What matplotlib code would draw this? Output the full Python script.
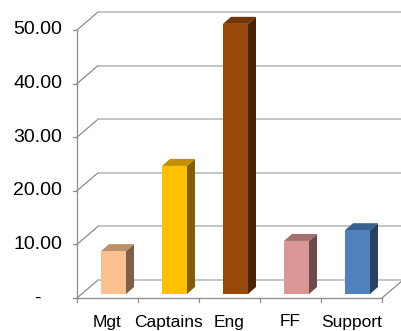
import numpy as np
import matplotlib
matplotlib.use("Agg")
import matplotlib.pyplot as plt
from matplotlib.patches import Polygon
from matplotlib.colors import to_rgb

# data
cats = ['Mgt', 'Captains', 'Eng', 'FF', 'Support']
vals = [8.0, 23.9, 50.4, 9.9, 11.9]
yticks = [0, 10, 20, 30, 40, 50]
ylabels = ['-', '10.00', '20.00', '30.00', '40.00', '50.00']
colors = ['#FAC090', '#FFC000', '#984807', '#D99694', '#4F81BD']

plt.rcParams['font.family'] = ['Liberation Sans', 'DejaVu Sans']

# pixel scale of the fake 3d box
px_x = 61.0     # px per category
px_y = 5.36     # px per value unit
W, H = 401, 331
x0px, y0px = 77, 298   # front-left floor corner

def dx(p):
    return p / px_x

def dy(p):
    return p / px_y

wall = (dx(21), dy(18))
bar_off = (dx(6), dy(4))
bar_d = (dx(8), dy(7))
bar_w = dx(25)
n = len(cats)

fig = plt.figure(figsize=(W / 100, H / 100), dpi=100)
ax = fig.add_axes([0, 0, 1, 1])
ax.set_xlim(-x0px / px_x, (W - x0px) / px_x)
ax.set_ylim(-(H - y0px) / px_y, y0px / px_y)
ax.axis('off')

xr = ax.get_xlim()[1]

# gridlines (front diagonal + back wall)
for v in yticks:
    ax.plot([0, wall[0]], [v, v + wall[1]], color='#8C8C8C', lw=0.9, zorder=1)
    ax.plot([wall[0], xr], [v + wall[1], v + wall[1]], color='#B4B4B4', lw=1.1, zorder=1)
    ax.plot([-dx(4), 0], [v, v], color='#8C8C8C', lw=0.9, zorder=1)

# floor and axes
ax.plot([0, n], [0, 0], color='#8C8C8C', lw=0.9, zorder=1)
ax.plot([n, n + wall[0]], [0, wall[1]], color='#8C8C8C', lw=0.9, zorder=1)
ax.plot([0, 0], [0, yticks[-1]], color='#8C8C8C', lw=0.9, zorder=1)
for i in range(n + 1):
    ax.plot([i, i], [0, -dy(4)], color='#8C8C8C', lw=0.9, zorder=1)

# bars
for i in range(n):
    c = np.array(to_rgb(colors[i]))
    v = vals[i]
    xa = i + 0.5 - bar_w / 2 + bar_off[0]
    xb = xa + bar_w
    b = bar_off[1]
    front = Polygon([(xa, b), (xb, b), (xb, b + v), (xa, b + v)],
                    closed=True, fc=c, ec='none', zorder=3)
    top = Polygon([(xa, b + v), (xb, b + v), (xb + bar_d[0], b + v + bar_d[1]),
                   (xa + bar_d[0], b + v + bar_d[1])],
                  closed=True, fc=c * 0.75, ec='none', zorder=3)
    side = Polygon([(xb, b), (xb, b + v), (xb + bar_d[0], b + v + bar_d[1]),
                    (xb + bar_d[0], b + bar_d[1])],
                   closed=True, fc=c * 0.5, ec='none', zorder=3)
    ax.add_patch(side)
    ax.add_patch(top)
    ax.add_patch(front)

# labels
for v, s in zip(yticks, ylabels):
    if s == '-':
        ax.text(-dx(40), v, s, ha='center', va='center', fontsize=14)
    else:
        ax.text(-dx(15), v, s, ha='right', va='center', fontsize=14)

for i in range(n):
    ax.text(i + 0.5, -dy(24), cats[i], ha='center', va='center', fontsize=12.5)

fig.savefig('out.png', dpi=100)
